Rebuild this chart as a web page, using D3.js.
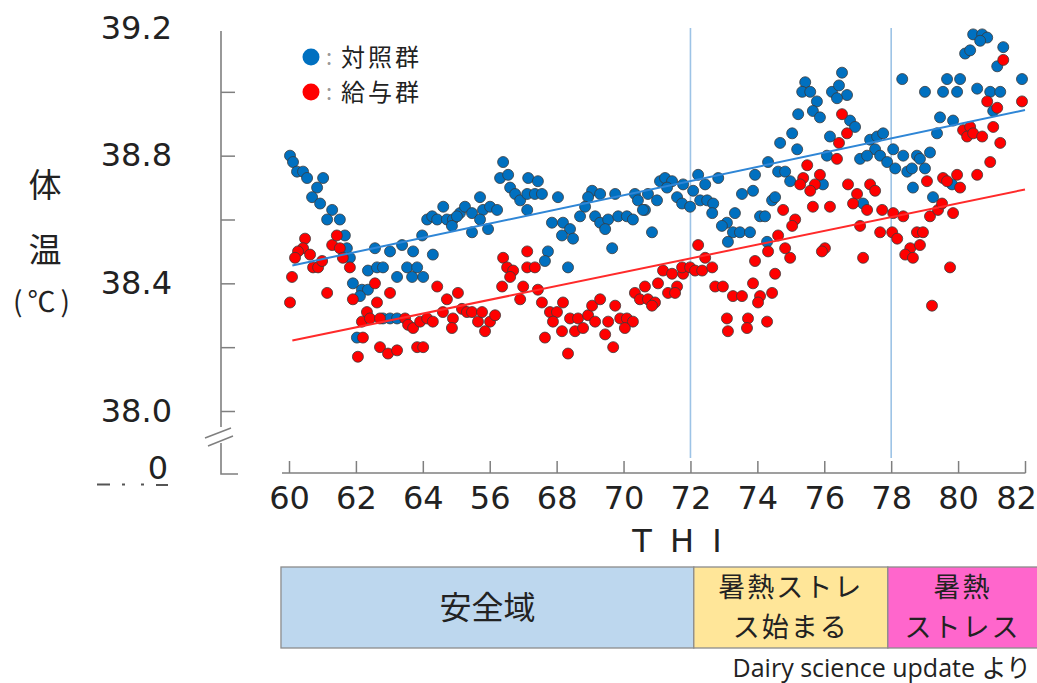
<!DOCTYPE html>
<html>
<head>
<meta charset="utf-8">
<script src="https://cdn.jsdelivr.net/npm/d3@7"></script>
<style>
  body { margin: 0; background: #fff; }
  svg { display: block; }
</style>
</head>
<body>
<svg id="chart" width="1037" height="683"></svg>
<script>
// ---- data ---------------------------------------------------------------
const xTickValues = [60, 62, 64, 66, 68, 70, 72, 74, 76, 78, 80, 82];
const xTickLabels = ["60", "62", "64", "56", "68", "70", "72", "74", "76", "78", "80", "82"];
const yTickValues = [38.0, 38.2, 38.4, 38.6, 38.8, 39.0, 39.2];
const yTickLabels = ["38.0", "", "38.4", "", "38.8", "", "39.2"];
const yBreakLabel = "0";

const seriesNames = ["対照群", "給与群"];

// 対照群 [THI, 体温]
const controlGroup = [
  [60.03,38.80],[60.12,38.78],[60.24,38.75],[60.42,38.75],[60.54,38.73],[61.02,38.73],[60.84,38.70],[60.69,38.67],
  [60.93,38.65],[61.29,38.63],[61.14,38.60],[61.52,38.60],[61.67,38.55],[61.73,38.51],[61.82,38.48],[61.91,38.40],
  [62.18,38.38],[62.36,38.38],[62.12,38.36],[62.36,38.44],[62.63,38.45],[62.81,38.45],[62.57,38.51],[63.02,38.50],
  [63.38,38.52],[63.71,38.50],[63.98,38.55],[64.30,38.49],[63.23,38.42],[63.53,38.45],[63.68,38.42],[63.83,38.45],
  [64.01,38.42],[64.13,38.60],[64.28,38.61],[64.43,38.60],[64.61,38.64],[64.72,38.60],[64.90,38.60],[65.11,38.62],
  [65.26,38.64],[65.47,38.62],[64.87,38.58],[65.02,38.61],[65.71,38.67],[65.80,38.63],[65.71,38.60],[66.01,38.64],
  [66.22,38.63],[65.95,38.57],[65.47,38.56],[66.40,38.78],[66.31,38.73],[66.55,38.74],[66.61,38.70],[66.76,38.68],
  [66.91,38.66],[67.12,38.63],[67.15,38.73],[62.81,38.29],[63.02,38.29],[63.23,38.29],[62.03,38.23],
  [67.12,38.68],[67.44,38.72],[67.35,38.68],[67.56,38.68],[68.04,38.67],[69.06,38.69],[69.30,38.68],[68.94,38.67],
  [69.75,38.68],[68.85,38.64],[70.34,38.68],[70.73,38.68],[70.43,38.66],[71.00,38.66],[70.64,38.63],[71.09,38.72],
  [71.24,38.73],[71.45,38.72],[71.30,38.70],[71.78,38.71],[71.60,38.67],[71.75,38.65],[71.99,38.64],[72.08,38.69],
  [72.23,38.74],[72.44,38.71],[72.29,38.66],[72.50,38.66],[72.68,38.65],[72.65,38.62],[72.83,38.73],[73.54,38.68],
  [73.87,38.69],[73.93,38.74],[74.32,38.78],[74.44,38.66],[74.53,38.67],[74.68,38.84],[67.86,38.59],[68.19,38.59],
  [68.40,38.57],[68.16,38.55],[68.49,38.54],[68.70,38.61],[69.15,38.61],[69.30,38.59],[69.54,38.60],[69.45,38.57],
  [69.84,38.61],[70.10,38.61],[70.28,38.60],[70.58,38.63],[70.85,38.56],[69.66,38.51],[67.74,38.50],[67.65,38.47],
  [68.34,38.45],[73.33,38.62],[73.09,38.59],[72.94,38.58],[73.27,38.56],[73.48,38.56],[73.78,38.56],[74.08,38.61],
  [74.23,38.61],[74.29,38.53],[73.12,38.53],
  [76.53,39.06],[75.43,39.03],[75.34,39.00],[75.58,39.00],[76.23,39.00],[76.44,39.02],[76.68,38.99],[76.38,38.98],
  [75.78,38.97],[75.66,38.94],[75.87,38.92],[75.22,38.93],[75.04,38.87],[75.19,38.82],[76.17,38.86],[76.77,38.91],
  [76.92,38.89],[76.08,38.80],[77.37,38.85],[77.58,38.86],[77.76,38.87],[77.52,38.82],[77.07,38.79],[77.28,38.80],
  [77.67,38.80],[77.88,38.78],[78.06,38.82],[78.12,38.76],[78.36,38.80],[78.48,38.75],[78.62,38.76],[78.77,38.80],
  [78.86,38.79],[79.01,38.76],[79.16,38.81],[78.33,39.04],[79.01,39.00],[79.37,38.87],[79.46,38.92],[79.85,38.91],
  [79.55,39.00],[79.67,39.04],[80.06,39.04],[79.97,39.00],[80.57,39.01],[80.96,39.00],[81.26,39.00],[81.05,38.94],
  [81.17,39.08],[81.35,39.14],[80.21,39.12],[80.36,39.13],[80.45,39.18],[80.72,39.18],[80.87,39.17],[80.66,39.16],
  [81.91,39.04],[78.65,38.70],[79.25,38.67],[79.82,38.71],[77.16,38.65],[74.62,38.75],[74.83,38.75],[74.98,38.72],
  [75.96,38.71]
];

// 給与群 [THI, 体温]
const treatedGroup = [
  [60.48,38.54],[60.42,38.51],[60.27,38.50],[60.18,38.48],[60.63,38.49],[60.72,38.45],[60.87,38.45],[60.99,38.47],
  [61.29,38.52],[61.43,38.55],[61.52,38.51],[61.61,38.48],[61.82,38.45],[60.09,38.42],[60.03,38.34],[61.14,38.37],
  [61.91,38.35],[62.57,38.40],[62.63,38.34],[63.02,38.37],[64.43,38.39],[65.05,38.37],[64.72,38.35],[62.33,38.31],
  [62.18,38.28],[62.42,38.29],[62.72,38.29],[63.47,38.29],[63.56,38.27],[63.71,38.26],[63.92,38.28],[64.13,38.29],
  [64.30,38.28],[64.60,38.31],[64.90,38.29],[65.17,38.32],[65.32,38.31],[65.47,38.31],[65.65,38.28],[65.77,38.31],
  [66.01,38.28],[66.16,38.30],[65.86,38.25],[64.87,38.26],[62.21,38.23],[62.06,38.17],[62.72,38.20],[62.96,38.18],
  [63.23,38.19],[63.83,38.20],[64.01,38.20],[66.40,38.48],[66.52,38.45],[66.70,38.44],[66.37,38.39],[66.61,38.42],
  [66.91,38.35],[67.12,38.50],[67.12,38.45],[67.00,38.39],
  [67.35,38.45],[67.44,38.38],[67.56,38.34],[67.80,38.31],[68.01,38.31],[68.19,38.34],[67.89,38.28],[68.40,38.29],
  [68.64,38.29],[68.16,38.25],[68.55,38.25],[68.79,38.26],[68.94,38.30],[69.06,38.33],[69.30,38.35],[69.15,38.28],
  [69.54,38.28],[69.75,38.33],[69.45,38.24],[69.90,38.29],[70.10,38.29],[70.28,38.28],[70.04,38.26],[67.65,38.23],
  [68.34,38.18],[69.69,38.20],[70.34,38.37],[70.64,38.39],[70.49,38.35],[70.73,38.35],[70.94,38.34],[70.85,38.33],
  [71.03,38.40],[71.18,38.44],[71.45,38.43],[71.33,38.37],[71.60,38.39],[71.54,38.37],[71.78,38.43],[71.75,38.45],
  [71.99,38.45],[72.14,38.44],[72.35,38.44],[72.44,38.48],[72.65,38.45],[72.23,38.52],[72.74,38.39],[72.97,38.39],
  [73.27,38.36],[73.54,38.36],[74.08,38.36],[74.02,38.34],[74.44,38.37],[73.87,38.40],[73.93,38.47],[74.53,38.43],
  [74.32,38.50],[74.62,38.55],[73.09,38.29],[73.72,38.29],[74.29,38.28],[73.12,38.25],[73.69,38.26],
  [76.53,38.93],[76.68,38.87],[76.44,38.84],[76.38,38.79],[75.49,38.77],[75.37,38.73],[75.28,38.71],[75.87,38.74],
  [75.72,38.71],[75.58,38.69],[76.71,38.71],[76.98,38.68],[77.37,38.71],[77.52,38.69],[75.66,38.64],[76.17,38.64],
  [76.86,38.65],[77.28,38.63],[77.73,38.63],[78.06,38.62],[78.36,38.61],[77.07,38.58],[77.67,38.56],[78.03,38.56],
  [78.18,38.54],[78.77,38.56],[78.95,38.56],[78.57,38.51],[78.86,38.52],[78.42,38.49],[78.65,38.48],[79.16,38.61],
  [79.40,38.63],[79.52,38.65],[79.85,38.62],[79.07,38.72],[79.55,38.73],[79.67,38.72],[79.97,38.74],[80.06,38.70],
  [80.57,38.74],[80.96,38.78],[80.15,38.88],[80.36,38.89],[80.27,38.86],[80.45,38.87],[80.72,38.86],[81.05,38.89],
  [81.26,38.84],[80.87,38.97],[81.17,38.95],[81.35,39.10],[81.91,38.97],[79.76,38.45],[79.22,38.33],[77.16,38.48],
  [76.02,38.51],[75.93,38.50],[74.98,38.48],[74.83,38.51],[75.13,38.60],[75.04,38.58],[74.77,38.63]
];

// fitted trend lines, [THI, 体温] at both ends
const controlTrend = [[60.1, 38.456], [82, 38.943]];
const treatedTrend = [[60.1, 38.221], [82, 38.694]];

// THI thresholds marked with vertical rules
const thresholds = [72, 78];

// stress zones shown under the axis
const zoneLabels = [["安全域"], ["暑熱ストレ", "ス始まる"], ["暑熱", "ストレス"]];
const zoneEdges = [59.76, 72.1, 77.9, 83.6];
const zoneColors = ["#bdd7ee", "#ffe699", "#ff66cc"];

const sourceNote = "Dairy science update より";
const xTitle = "T H I";
const yTitle = ["体", "温", "(℃)"];

// ---- layout -------------------------------------------------------------
const svg = d3.select("#chart");
svg.append("rect").attr("width", 1037).attr("height", 683).attr("fill", "#fff");

const x = d3.scaleLinear().domain([60, 82]).range([289, 1025]);
const y = d3.scaleLinear().domain([38.0, 39.2]).range([411, 28]);

const axisX0 = 221;      // y axis position
const axisY0 = 474;      // x axis / broken "0" baseline
const axisColor = "#7f7f7f";
const numFont = "'DejaVu Sans', sans-serif";
const jpFont = "'Noto Sans CJK JP', sans-serif";
const blue = "#0070c0", red = "#ff0000";

// threshold rules
svg.append("g").selectAll("line").data(thresholds).join("line")
  .attr("x1", d => x(d)).attr("x2", d => x(d))
  .attr("y1", y(39.2)).attr("y2", axisY0 - 16)
  .attr("stroke", "#9dc3e6").attr("stroke-width", 1.6);

// ---- y axis (broken) ---------------------------------------------------
const yAxis = d3.axisLeft(y)
  .tickValues(yTickValues)
  .tickFormat((d, i) => yTickLabels[i])
  .tickSizeInner(-14).tickSizeOuter(0).tickPadding(49);
const gy = svg.append("g").attr("transform", `translate(${axisX0},0)`).call(yAxis);
gy.select(".domain").remove();
gy.selectAll(".tick line").attr("stroke", axisColor).attr("stroke-width", 1.5)
  .filter(d => d === 39.2).remove();
gy.selectAll(".tick text").attr("font-family", numFont).attr("font-size", 32).attr("fill", "#222");

const axisLines = svg.append("g").attr("stroke", axisColor).attr("stroke-width", 1.6).attr("fill", "none");
axisLines.append("path").attr("d", `M${axisX0},${y(39.2) + 3}V427`);
axisLines.append("path").attr("d", `M${axisX0},443V${axisY0}H${axisX0 + 17}`);
axisLines.append("path").attr("d", "M205,438L231,428M208,446L233,436").attr("stroke-width", 1.4);

svg.append("text").attr("x", 168).attr("y", axisY0 + 5).attr("text-anchor", "end")
  .attr("font-family", numFont).attr("font-size", 32).attr("fill", "#222").text(yBreakLabel);
svg.append("path").attr("d", "M97,484.5h13M122,484.5h3M141,484.5h3M156,485h12")
  .attr("stroke", "#555").attr("stroke-width", 2);

// ---- x axis ------------------------------------------------------------
const xAxis = d3.axisBottom(x)
  .tickValues(xTickValues)
  .tickFormat((d, i) => xTickLabels[i])
  .tickSizeInner(-12).tickSizeOuter(0).tickPadding(13);
const gx = svg.append("g").attr("transform", `translate(0,${axisY0 - 1})`).call(xAxis);
gx.select(".domain").remove();
gx.selectAll(".tick line").attr("stroke", axisColor).attr("stroke-width", 1.5);
gx.selectAll(".tick text").attr("font-family", numFont).attr("font-size", 32).attr("fill", "#222")
  .attr("dx", d => d === 82 ? -9 : 0);
svg.append("path").attr("d", `M282,${axisY0 - 1}H${x(82) + 0.5}`)
  .attr("stroke", axisColor).attr("stroke-width", 1.6);

svg.append("text").attr("x", (x(60) + x(82)) / 2 + 22).attr("y", 552).attr("text-anchor", "middle")
  .attr("font-family", numFont).attr("font-size", 32).attr("letter-spacing", 4)
  .attr("fill", "#222").text(xTitle);

// y title
const yTitleG = svg.append("g").attr("font-family", jpFont).attr("fill", "#222").attr("text-anchor", "middle");
yTitleG.append("text").attr("x", 45).attr("y", 197).attr("font-size", 33).text(yTitle[0]);
yTitleG.append("text").attr("x", 45).attr("y", 262).attr("font-size", 33).text(yTitle[1]);
yTitleG.append("text").attr("x", 44).attr("y", 312).attr("font-size", 28).attr("letter-spacing", 5).text(yTitle[2]);

// ---- points -------------------------------------------------------------
function drawPoints(data, color) {
  svg.append("g").selectAll("circle").data(data).join("circle")
    .attr("cx", d => x(d[0])).attr("cy", d => y(d[1])).attr("r", 5.5)
    .attr("fill", color).attr("stroke", "#3a3a3a").attr("stroke-width", 0.8);
}
drawPoints(controlGroup, blue);
drawPoints(treatedGroup, red);

// trend lines
const line = d3.line().x(d => x(d[0])).y(d => y(d[1]));
svg.append("path").attr("d", line(controlTrend)).attr("stroke", "#2f86d6").attr("stroke-width", 2).attr("fill", "none");
svg.append("path").attr("d", line(treatedTrend)).attr("stroke", "#ff2a2a").attr("stroke-width", 2).attr("fill", "none");

// ---- legend -------------------------------------------------------------
const legendRows = [57, 92];
const legend = svg.append("g").attr("font-family", jpFont);
legend.selectAll("circle").data([blue, red]).join("circle")
  .attr("cx", 311).attr("cy", (d, i) => legendRows[i]).attr("r", 8.5).attr("fill", d => d);
seriesNames.forEach((name, i) => {
  legend.append("text").attr("x", 326).attr("y", legendRows[i] + 8).attr("font-size", 22)
    .attr("fill", "#999").text(":");
  legend.append("text").attr("x", 341).attr("y", legendRows[i] + 9).attr("font-size", 24)
    .attr("letter-spacing", 3).attr("fill", "#222").text(name);
});

// ---- stress zones ------------------------------------------------------
const zoneTop = 567, zoneBottom = 648;
const zones = svg.append("g");
zoneLabels.forEach((lines, i) => {
  const x0 = x(zoneEdges[i]), x1 = x(zoneEdges[i + 1]);
  zones.append("rect").attr("x", x0).attr("y", zoneTop).attr("width", x1 - x0).attr("height", zoneBottom - zoneTop)
    .attr("fill", zoneColors[i]).attr("stroke", "#8c8c8c").attr("stroke-width", 1.3);
  const cx = (x0 + Math.min(x1, 1037)) / 2;
  const cy = (zoneTop + zoneBottom) / 2;
  const size = lines.length > 1 ? 27 : 32;
  lines.forEach((t, j) => {
    zones.append("text").attr("x", cx).attr("y", cy + (j - (lines.length - 1) / 2) * 40 + size * 0.36)
      .attr("text-anchor", "middle").attr("font-family", jpFont).attr("font-size", size)
      .attr("letter-spacing", lines.length > 1 ? 2 : 0).attr("fill", "#222").text(t);
  });
});

svg.append("text").attr("x", 1031).attr("y", 677).attr("text-anchor", "end")
  .attr("font-family", "'Open Sans', 'Noto Sans CJK JP', sans-serif").attr("font-size", 25)
  .attr("fill", "#222").text(sourceNote);
</script>
</body>
</html>
